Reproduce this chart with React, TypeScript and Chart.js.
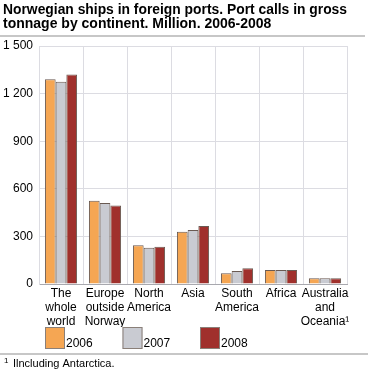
import React, { useEffect, useRef } from "react";
import { Chart, registerables } from "chart.js";

Chart.register(...registerables);

const categories: string[][] = [
  ["The", "whole", "world"],
  ["Europe", "outside", "Norway"],
  ["North", "America"],
  ["Asia"],
  ["South", "America"],
  ["Africa"],
  ["Australia", "and", "Oceania¹"],
];
const seriesNames = ["2006", "2007", "2008"];
const values2006 = [1290, 525, 245, 330, 68, 88, 37];
const values2007 = [1275, 510, 228, 340, 82, 88, 37];
const values2008 = [1320, 495, 235, 365, 100, 88, 37];
const colors = ["#f5a653", "#c9cbd2", "#a0302c"];
const titleLines = [
  "Norwegian ships in foreign ports. Port calls in gross",
  "tonnage by continent. Million. 2006-2008",
];
const footnote = "Ilncluding Antarctica.";
const FONT = "'Liberation Sans', Arial, sans-serif";

const decorPlugin = {
  id: "decor",
  afterDraw(chart: any) {
    const ctx = chart.ctx;
    const h = chart.height;
    ctx.save();
    // title separator
    ctx.strokeStyle = "#b4b4b4";
    ctx.lineWidth = 1.5;
    ctx.beginPath();
    ctx.moveTo(0, 36);
    ctx.lineTo(365, 36);
    ctx.stroke();
    // legend
    const top = h - 42;
    let x = 45;
    ctx.font = `12px ${FONT}`;
    ctx.textBaseline = "alphabetic";
    chart.data.datasets.forEach((ds: any) => {
      ctx.fillStyle = ds.backgroundColor;
      ctx.fillRect(x, top, 20, 22);
      ctx.strokeStyle = "#8a7f78";
      ctx.lineWidth = 1;
      ctx.strokeRect(x + 0.5, top + 0.5, 19, 21);
      ctx.fillStyle = "#000";
      ctx.fillText(ds.label, x + 21, top + 20);
      x += 77.5;
    });
    // footnote separator
    ctx.strokeStyle = "#b4b4b4";
    ctx.lineWidth = 1.5;
    ctx.beginPath();
    ctx.moveTo(0, h - 15);
    ctx.lineTo(368, h - 15);
    ctx.stroke();
    ctx.fillStyle = "#000";
    ctx.font = `8px ${FONT}`;
    ctx.fillText("1", 4, h - 6);
    ctx.font = `11px ${FONT}`;
    ctx.fillText(footnote, 13, h - 2);
    ctx.restore();
  },
};

export default function App() {
  const ref = useRef<HTMLCanvasElement>(null);
  useEffect(() => {
    document.body.style.margin = "0";
    const seriesValues = [values2006, values2007, values2008];
    const chart = new Chart(ref.current!, {
      type: "bar",
      data: {
        labels: categories,
        datasets: seriesNames.map((name, i) => ({
          label: name,
          data: seriesValues[i],
          backgroundColor: colors[i],
          borderColor: "#6a5a52",
          borderWidth: 1,
          barPercentage: 1,
          categoryPercentage: 0.73,
        })),
      },
      options: {
        animation: false,
        responsive: false,
        layout: { padding: { left: 3, right: 22, top: 0, bottom: 42 } },
        plugins: {
          legend: { display: false },
          tooltip: { enabled: false },
          title: {
            display: true,
            text: titleLines,
            align: "start",
            color: "#000",
            font: { family: FONT, size: 14, weight: "bold", lineHeight: 1.02 },
            padding: { top: 3, bottom: 14.5 },
          },
        },
        scales: {
          x: {
            grid: { color: "#dcdce2", drawTicks: false, lineWidth: 1 },
            border: { color: "#a8a8ae" },
            afterFit: (s: any) => {
              s.height = 43;
            },
            ticks: {
              color: "#000",
              font: { family: FONT, size: 12, lineHeight: 1.17 },
              padding: 3,
              maxRotation: 0,
              autoSkip: false,
            },
          },
          y: {
            min: 0,
            max: 1500,
            grid: { color: "#dcdce2", drawTicks: false },
            border: { color: "#dcdce2" },
            afterFit: (s: any) => {
              s.width = 36;
            },
            ticks: {
              stepSize: 300,
              color: "#000",
              font: { family: FONT, size: 12 },
              padding: 6,
              callback: (v: any) => {
                const n = Number(v);
                return n >= 1000
                  ? `${Math.floor(n / 1000)} ${String(n % 1000).padStart(3, "0")}`
                  : String(n);
              },
            },
          },
        },
      },
      plugins: [decorPlugin],
    });
    return () => chart.destroy();
  }, []);
  return (
    <div style={{ width: 369, height: 369 }}>
      <canvas ref={ref} width={369} height={369} />
    </div>
  );
}
